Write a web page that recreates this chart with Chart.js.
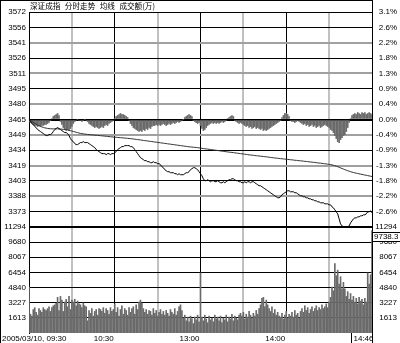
<!DOCTYPE html>
<html><head><meta charset="utf-8">
<script src="https://cdn.jsdelivr.net/npm/chart.js@4.4.1/dist/chart.umd.min.js"></script>
<style>
html,body{margin:0;padding:0;background:#fff;}
#wrap{position:relative;width:400px;height:343px;overflow:hidden;background:#fff;}
canvas{position:absolute;left:0;top:0;}
</style></head><body>
<div id="wrap"><canvas id="price" width="400" height="343"></canvas><canvas id="vol" width="400" height="343"></canvas></div>
<script>
const titleParts = ['深证成指','分时走势','均线','成交额(万)'];
const prevClose = 3465;
const priceStep = 15.3;
const priceLabels = ['3572','3556','3541','3526','3511','3495','3480','3465','3449','3434','3419','3403','3388','3373'];
const pctLabels = ['3.1%','2.6%','2.2%','1.8%','1.3%','0.9%','0.4%','0.0%','-0.4%','-0.9%','-1.3%','-1.8%','-2.2%','-2.6%'];
const volMax = 11294;
const volLabels = ['11294','9680','8067','6454','4840','3227','1613'];
const lastVolLabel = '9738.3';
const lastVolValue = 9738.3;
const xTickLabels = ['2005/03/10, 09:30','10:30','13:00','14:00','14:46'];
const xTickIdx = [0,60,120,180,226];
const gridIdx = [0,30,60,90,120,150,180,210,240];

const price = [
3465,3463,3461,3460,3458,3457,3455,3454,3453,3452,3451,
3450,3449,3449,3450,3450,3451,3453,3455,3456,3457,
3456,3455,3454,3453,3452,3452,3451,3449,3446,3444,
3443,3441,3440,3440,3441,3442,3442,3443,3442,3442,
3442,3441,3440,3439,3438,3437,3435,3434,3433,3432,
3431,3431,3431,3430,3431,3431,3430,3431,3431,3432,
3433,3435,3436,3437,3438,3438,3439,3439,3439,3439,
3438,3438,3437,3435,3433,3431,3429,3427,3426,3425,
3424,3424,3423,3423,3422,3422,3423,3422,3422,3421,
3421,3420,3418,3417,3415,3414,3413,3413,3412,3412,
3412,3411,3411,3410,3411,3410,3410,3410,3411,3412,
3412,3413,3415,3416,3417,3417,3416,3415,3413,3411,
3409,3406,3404,3404,3405,3404,3403,3404,3404,3403,
3403,3404,3403,3402,3402,3403,3402,3403,3404,3405,
3405,3406,3406,3405,3404,3404,3403,3403,3402,3402,
3403,3402,3403,3403,3402,3403,3403,3402,3401,3400,
3399,3399,3398,3397,3396,3395,3394,3393,3392,3391,
3390,3389,3388,3387,3387,3388,3390,3391,3392,3393,
3394,3394,3393,3393,3393,3392,3392,3391,3390,3389,
3389,3388,3388,3387,3387,3386,3386,3385,3385,3384,
3384,3383,3383,3382,3382,3382,3381,3381,3381,3380,
3380,3378,3377,3375,3373,3371,3366,3361,3359,3358,
3358,3358,3358,3359,3362,3364,3366,3367,3367,3368,
3368,3369,3369,3370,3370,3371,3373,3373,3374,3372
];
const avgPrice = [
3465.0,3464.0,3463.0,3462.1,3461.2,3460.3,3459.5,3458.8,3458.2,3457.6,3457.1,
3456.7,3456.4,3456.1,3455.9,3455.8,3455.7,3455.7,3455.7,3455.7,3455.7,
3455.6,3455.5,3455.4,3455.2,3455.0,3454.8,3454.5,3454.2,3453.9,3453.5,
3453.1,3452.7,3452.3,3451.9,3451.5,3451.2,3450.9,3450.7,3450.5,3450.3,
3450.1,3450.0,3449.8,3449.7,3449.6,3449.4,3449.3,3449.2,3449.0,3448.9,
3448.7,3448.6,3448.4,3448.3,3448.1,3448.0,3447.8,3447.7,3447.5,3447.4,
3447.3,3447.1,3447.0,3446.9,3446.8,3446.6,3446.5,3446.4,3446.2,3446.1,
3445.9,3445.8,3445.6,3445.4,3445.2,3445.0,3444.8,3444.6,3444.4,3444.2,
3444.0,3443.8,3443.6,3443.4,3443.2,3443.0,3442.8,3442.6,3442.4,3442.2,
3442.0,3441.8,3441.6,3441.4,3441.2,3441.0,3440.8,3440.6,3440.4,3440.2,
3440.0,3439.8,3439.6,3439.4,3439.2,3439.0,3438.8,3438.6,3438.4,3438.2,
3438.0,3437.8,3437.7,3437.5,3437.4,3437.2,3437.1,3436.9,3436.7,3436.5,
3436.3,3436.1,3435.9,3435.7,3435.5,3435.3,3435.1,3434.9,3434.7,3434.5,
3434.3,3434.1,3433.9,3433.7,3433.5,3433.3,3433.1,3432.9,3432.7,3432.5,
3432.3,3432.2,3432.0,3431.8,3431.6,3431.4,3431.2,3431.0,3430.8,3430.6,
3430.4,3430.2,3430.0,3429.8,3429.6,3429.5,3429.3,3429.1,3428.9,3428.8,
3428.6,3428.5,3428.3,3428.1,3428.0,3427.8,3427.6,3427.4,3427.2,3427.0,
3426.9,3426.7,3426.5,3426.4,3426.2,3426.0,3425.9,3425.7,3425.6,3425.4,
3425.2,3425.1,3424.9,3424.8,3424.6,3424.4,3424.3,3424.1,3424.0,3423.8,
3423.7,3423.5,3423.3,3423.2,3423.0,3422.8,3422.7,3422.5,3422.3,3422.2,
3422.0,3421.8,3421.6,3421.5,3421.3,3421.1,3420.9,3420.7,3420.5,3420.3,
3420.1,3419.8,3419.4,3419.0,3418.5,3418.0,3417.4,3416.8,3416.2,3415.6,
3415.0,3414.5,3414.0,3413.5,3413.0,3412.6,3412.2,3411.8,3411.5,3411.2,
3410.9,3410.6,3410.3,3410.0,3409.7,3409.4,3409.1,3408.8,3408.5,3408.2
];
const leadLag = [
-2,-3,-4,-5,-6,-6,-7,-6,-7,-6,
-6,-5,-5,-4,-3,-1,1,3,4,5,
6,4,-2,-5,-8,-10,-11,-10,-11,-9,
-7,-4,-2,-1,0,-1,-1,-2,-1,0,
-1,-2,-4,-5,-6,-7,-8,-7,-8,-9,
-8,-7,-8,-6,-5,-6,-4,-3,-2,-1,
1,3,4,5,6,5,5,4,3,2,
-1,-4,-6,-8,-9,-10,-11,-12,-11,-12,
-10,-11,-9,-10,-8,-9,-7,-6,-6,-5,
-6,-5,-6,-5,-4,-5,-6,-5,-4,-5,
-4,-3,-4,-3,-2,-3,-2,-1,0,2,
3,4,5,4,3,-1,-2,-3,-4,-3,
-6,-9,-11,-10,-8,-6,-5,-4,-3,-4,
-3,-4,-3,-4,-3,-2,-3,-2,-1,1,
2,3,4,3,-1,-2,-3,-4,-3,-4,
-5,-6,-7,-6,-8,-7,-9,-8,-7,-9,
-8,-9,-10,-9,-11,-10,-11,-10,-9,-8,
-7,-6,-5,-4,-3,-2,-1,2,4,6,
6,5,3,-1,-2,-2,-3,-2,-1,-2,
-3,-4,-5,-4,-6,-5,-7,-6,-5,-7,
-6,-8,-7,-6,-8,-7,-6,-5,-6,-7,
-8,-10,-11,-13,-16,-19,-22,-23,-20,-18,
-16,-15,-12,-8,-3,1,4,5,6,5,
7,6,5,7,6,7,5,6,7,6,5
];
const volume = [
4900,2000,1800,2500,2700,2200,1900,2600,2400,2200,
2700,2500,2400,2600,2800,2300,2700,2900,3000,3200,
3800,2400,3900,3500,2300,3300,3600,2800,3900,2500,
3500,3300,3600,2900,3400,3100,3000,2700,3200,2900,
2800,1300,2400,2100,2600,1800,2300,2500,1900,2600,
2500,2300,2700,2100,2600,2400,2000,2700,2300,2500,
3100,2200,2700,1800,2500,2900,2000,2600,2400,1900,
2700,2200,2600,2800,2000,3000,2500,3300,3500,3200,
2600,2200,2500,2000,2400,2300,1900,2600,2100,2400,
1800,2200,2500,2000,2300,1900,2400,2100,1800,2500,
2200,2000,2600,1900,2300,2800,3000,2400,1600,1900,
1300,1700,1200,1800,1500,1000,1700,1400,1900,1200,
6400,1700,1300,1900,1500,1100,1800,1400,1600,1200,
1900,1500,1700,1300,1800,1100,1600,1400,1900,1200,
1700,1500,2000,1300,1800,1600,1400,1900,2100,1800,
2200,1500,2000,1700,2300,1900,1600,2100,1800,2400,
2000,2600,3000,3700,3800,2800,3500,3000,2600,2300,
2800,2100,2500,1900,2200,1800,1700,2100,1500,1900,
2300,1600,2000,1800,2200,1700,2400,1900,2100,1600,
2300,2600,2200,2900,2400,2700,2100,2500,2800,2300,
2600,2900,2400,2700,2500,3000,2600,2800,3100,2700,
3300,3800,4900,4500,7400,6100,6700,5200,6000,4700,
5400,4700,3900,4400,3600,4200,3500,3900,3300,3700,
3100,3800,3400,3600,3000,3700,3300,6400,5200,6200,
10900
];

// minute labels 09:30-11:30, 13:01-15:00
function fmt(t){const h=Math.floor(t/60),m=t%60;return String(h).padStart(2,'0')+':'+String(m).padStart(2,'0');}
const times=[];
for(let m=0;m<=120;m++) times.push(fmt(570+m));
for(let m=1;m<=120;m++) times.push(fmt(780+m));

const priceMax = prevClose + 7*priceStep;
const priceMin = prevClose - 7*priceStep;
const FONT = "'Liberation Sans', Arial, sans-serif";
Chart.defaults.font.family = FONT;
Chart.defaults.font.size = 8;
Chart.defaults.color = '#000';

const barColor = '#6a6a6a';
const hGray = '#a0a0a0', vGray = '#c0c0c0';
const xGrid = {
  type:'category', offset:false,
  grid:{offset:false, drawTicks:false,
    color: c => (c.index % 2 === 1) ? vGray : '#000',
    lineWidth: c => (c.index % 2 === 1) ? 2 : 1},
  ticks:{display:false}, border:{display:false},
  afterBuildTicks: s => { s.ticks = gridIdx.map(v => ({value:v})); },
  afterFit: s => { s.height = 0; }
};
function priceTicks(s){ s.ticks = priceLabels.map((_,k)=>({value: priceMax - k*priceStep})); }
function volTicks(s){ s.ticks = volLabels.map((_,k)=>({value: volMax*(volLabels.length-k)/volLabels.length})); }

const pricePlugin = {
  id:'pricePlugin',
  afterDraw(chart){
    const ctx = chart.ctx, a = chart.chartArea;
    ctx.save();
    ctx.strokeStyle = '#000'; ctx.lineWidth = 1;
    ctx.beginPath();
    ctx.moveTo(0, 0.5); ctx.lineTo(a.right+0.5, 0.5);
    ctx.moveTo(0.5, 0); ctx.lineTo(0.5, 343);
    ctx.moveTo(Math.round(a.right)+0.5, 0); ctx.lineTo(Math.round(a.right)+0.5, a.top);
    ctx.stroke();
    ctx.fillStyle = '#000';
    ctx.font = "7.6px 'Noto Sans CJK SC', sans-serif";
    ctx.textBaseline = 'middle'; ctx.textAlign = 'left';
    let x = a.left + 1;
    titleParts.forEach(p => { ctx.fillText(p, x, 6); x += ctx.measureText(p).width + 4.5; });
    ctx.restore();
  }
};

const volPlugin = {
  id:'volPlugin',
  afterDraw(chart){
    const ctx = chart.ctx, a = chart.chartArea, xs = chart.scales.x, ys = chart.scales.y;
    ctx.save();
    ctx.strokeStyle = '#000'; ctx.lineWidth = 1;
    ctx.beginPath();
    ctx.moveTo(Math.round(a.right)+0.5, a.bottom); ctx.lineTo(Math.round(a.right)+0.5, 343);
    const mx = Math.round(xs.getPixelForValue(xTickIdx[4]))-0.5;
    ctx.moveTo(mx, a.bottom); ctx.lineTo(mx, 343);
    ctx.stroke();
    ctx.fillStyle = '#000';
    ctx.font = "8px " + FONT;
    ctx.textBaseline = 'middle';
    const ty = a.bottom + 5.5;
    ctx.textAlign = 'left';
    ctx.fillText(xTickLabels[0], 2, ty);
    ctx.textAlign = 'right';
    for (let k=1;k<4;k++) ctx.fillText(xTickLabels[k], xs.getPixelForValue(xTickIdx[k]) - 1, ty);
    ctx.textAlign = 'left';
    ctx.fillText(xTickLabels[4], mx + 2, ty);
    // last value box
    const by = ys.getPixelForValue(lastVolValue);
    ctx.fillStyle = '#fff';
    ctx.fillRect(a.right+0.5, by-10, 40, 10);
    ctx.strokeRect(Math.round(a.right)+0.5, Math.round(by-10)+0.5, 40, 9);
    ctx.fillStyle = '#000';
    ctx.fillText(lastVolLabel, a.right + 2, by - 5);
    ctx.restore();
  }
};

new Chart(document.getElementById('price'), {
  data:{
    labels: times,
    datasets:[
      {type:'line', data: price, borderColor:'#000', borderWidth:1, pointRadius:0, tension:0, order:1},
      {type:'line', data: avgPrice, borderColor:'#303030', borderWidth:1, pointRadius:0, tension:0, order:2},
      {type:'bar', data: leadLag.map(d => prevClose + d), base: prevClose, backgroundColor:barColor, barThickness:1, order:3}
    ]
  },
  options:{
    responsive:false, animation:false, devicePixelRatio:1,
    layout:{padding:{top:12, bottom:116, left:0, right:3}},
    plugins:{legend:{display:false}, tooltip:{enabled:false}},
    scales:{
      x: xGrid,
      y:{position:'left', min:priceMin, max:priceMax,
        afterFit: s => { s.width = 29; }, afterBuildTicks: priceTicks,
        ticks:{callback:(v,k)=>priceLabels[k], padding:3, autoSkip:false},
        grid:{drawTicks:false,
          color: c => (c.index > 0 && c.index % 2 === 0) ? hGray : '#000',
          lineWidth: c => c.index === 7 ? 2 : ((c.index > 0 && c.index % 2 === 0) ? 2 : 1)},
        border:{display:true, color:'#000', width:1}},
      y2:{position:'right', min:priceMin, max:priceMax,
        afterFit: s => { s.width = 25; }, afterBuildTicks: priceTicks,
        ticks:{callback:(v,k)=>pctLabels[k], padding:0, crossAlign:'far', autoSkip:false},
        grid:{display:false}, border:{display:true, color:'#000', width:1}}
    }
  },
  plugins:[pricePlugin]
});

new Chart(document.getElementById('vol'), {
  data:{
    labels: times,
    datasets:[
      {type:'bar', data: volume, backgroundColor:barColor, barThickness:1}
    ]
  },
  options:{
    responsive:false, animation:false, devicePixelRatio:1,
    layout:{padding:{top:227, bottom:10, left:0, right:3}},
    plugins:{legend:{display:false}, tooltip:{enabled:false}},
    scales:{
      x: xGrid,
      y:{position:'left', min:0, max:volMax,
        afterFit: s => { s.width = 29; }, afterBuildTicks: volTicks,
        ticks:{callback:(v,k)=>volLabels[k], padding:3, autoSkip:false},
        grid:{drawTicks:false, color:'#000', lineWidth: c => c.index === 0 ? 2 : 1},
        border:{display:true, color:'#000', width:1}},
      y2:{position:'right', min:0, max:volMax,
        afterFit: s => { s.width = 25; }, afterBuildTicks: volTicks,
        ticks:{callback:(v,k)=>volLabels[k], padding:0, crossAlign:'far', autoSkip:false},
        grid:{display:false}, border:{display:true, color:'#000', width:1}}
    }
  },
  plugins:[volPlugin]
});
</script>
</body></html>
